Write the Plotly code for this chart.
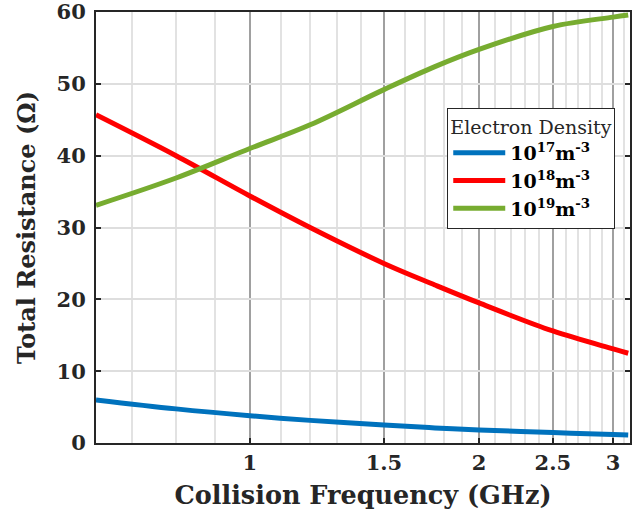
import numpy as np
import plotly.graph_objects as go

# Data (collision frequency in GHz, resistance in ohms)
freq = [0.628, 0.8, 1.0, 1.2, 1.5, 1.75, 2.0, 2.5, 3.0, 3.14]
r_1e17 = [6.0, 4.75, 3.8, 3.15, 2.5, 2.1, 1.82, 1.45, 1.2, 1.12]
r_1e18 = [45.7, 40.0, 34.4, 30.0, 25.0, 22.0, 19.5, 15.6, 13.1, 12.5]
r_1e19 = [33.1, 36.9, 41.0, 44.3, 49.2, 52.4, 54.8, 58.0, 59.3, 59.6]

series_names = ["<b>10<sup>17</sup>m<sup>-3</sup></b>",
                "<b>10<sup>18</sup>m<sup>-3</sup></b>",
                "<b>10<sup>19</sup>m<sup>-3</sup></b>"]
series_vals = [r_1e17, r_1e18, r_1e19]
colors = ["#0072BD", "#FF0000", "#77AC30"]

x_major = [1, 1.5, 2, 2.5, 3]
x_major_text = ["1", "1.5", "2", "2.5", "3"]
x_minor = [0.7, 0.8, 0.9, 1.1, 1.2, 1.3, 1.4, 1.6, 1.7, 1.8, 1.9,
           2.1, 2.2, 2.3, 2.4, 2.6, 2.7, 2.8, 2.9, 3.1]
y_ticks = [0, 10, 20, 30, 40, 50, 60]

FONT = "DejaVu Serif"

fig = go.Figure()
for name, vals, c in zip(series_names, series_vals, colors):
    fig.add_trace(go.Scatter(x=freq, y=vals, mode="lines", name=name,
                             line=dict(color=c, width=5, shape="spline", smoothing=1.0)))

fig.update_layout(
    width=638, height=514,
    margin=dict(l=96, r=8, t=12, b=71),
    plot_bgcolor="white", paper_bgcolor="white",
    font=dict(family=FONT, color="#262626"),
    legend=dict(
        x=0.972, y=0.777, xanchor="right", yanchor="top",
        bgcolor="white", bordercolor="#262626", borderwidth=1.2,
        font=dict(family=FONT, size=19, color="#000000"),
        title=dict(text="Electron Density", side="top center",
                   font=dict(family=FONT, size=19, color="#262626")),
        tracegroupgap=0, itemwidth=52,
    ),
)

fig.update_xaxes(
    type="log",
    range=[np.log10(0.628), np.log10(3.157)],
    tickmode="array", tickvals=x_major, ticktext=x_major_text,
    tickfont=dict(family=FONT, size=21, color="#262626", weight="bold"),
    showgrid=True, gridcolor="#a0a0a0", gridwidth=2,
    minor=dict(tickmode="array", tickvals=x_minor, showgrid=True,
               gridcolor="#e2e2e2", gridwidth=2, ticks=""),
    showline=True, linecolor="#262626", linewidth=2, mirror=True,
    ticks="inside", ticklen=5, tickcolor="#262626", tickwidth=1.5,
    automargin=False,
    title=dict(text="<b>Collision Frequency (GHz)</b>",
               font=dict(family=FONT, size=25.5, color="#262626"), standoff=12),
    zeroline=False,
)
fig.update_yaxes(
    range=[0, 60.01],
    tickmode="array", tickvals=y_ticks,
    ticklabeloverflow="allow", ticklabelstandoff=4,
    tickfont=dict(family=FONT, size=21, color="#262626", weight="bold"),
    showgrid=True, gridcolor="#dedede", gridwidth=2,
    showline=True, linecolor="#262626", linewidth=2, mirror="ticks",
    ticks="inside", ticklen=5, tickcolor="#262626", tickwidth=1.5,
    automargin=False,
    title=dict(text="<b>Total Resistance (Ω)</b>",
               font=dict(family=FONT, size=24, color="#262626"), standoff=14),
    zeroline=False,
)

fig.write_html("out.html")
